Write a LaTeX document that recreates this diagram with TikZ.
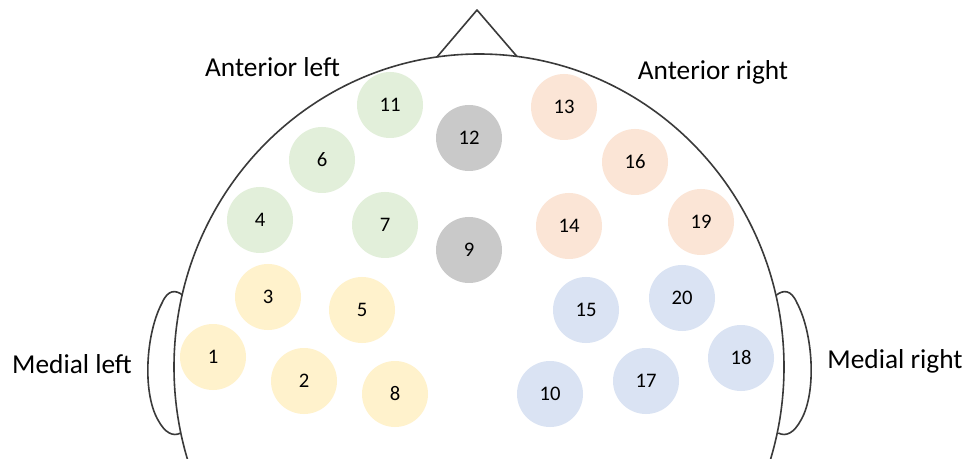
\documentclass[tikz,border=0pt]{standalone}
\usepackage{fontspec}
\setmainfont{Carlito}
\definecolor{gfill}{HTML}{E2EFDA}
\definecolor{kfill}{HTML}{C9C9C9}
\definecolor{ofill}{HTML}{FBE5D6}
\definecolor{yfill}{HTML}{FFF2CC}
\definecolor{bfill}{HTML}{DAE3F3}
\definecolor{outline}{HTML}{3A3A3A}
\tikzset{
  electrode/.style={circle, draw=none, minimum size=49.5pt, inner sep=0pt,
    font=\fontsize{15.5}{18}\selectfont, text=black},
  region/.style={anchor=base, font=\fontsize{20.5}{24}\selectfont, text=black},
  headline/.style={draw=outline, line width=1.2pt, line join=round},
}
\begin{document}
\begin{tikzpicture}[x=0.75pt, y=-0.75pt]
\useasboundingbox (0,0) rectangle (966,459);
\clip (0,0) rectangle (966,459);
\fill[white] (0,0) rectangle (966,459);

% head outline
\coordinate (hc) at (479,367);
\draw[headline] (hc) ellipse [x radius=228.75pt, y radius=234.75pt];

% nose
\coordinate (nl) at (437,57);
\coordinate (nt) at (477,10);
\coordinate (nr) at (517,56.5);
\draw[headline] (nl) -- (nt) -- (nr);

% ears
\coordinate (ltop) at (182.5,295);
\coordinate (lbot) at (180.7,433);
\draw[headline] (ltop) .. controls (176,290) and (168,289) .. (162,303)
  .. controls (146,333) and (142,392) .. (158,420)
  .. controls (165,433) and (173,437) .. (lbot);
\coordinate (rtop) at (776.5,295);
\coordinate (rbot) at (778.3,433);
\draw[headline] (rtop) .. controls (783,290) and (791,289) .. (797,303)
  .. controls (813,333) and (817,392) .. (801,420)
  .. controls (794,433) and (786,437) .. (rbot);

% region labels
\node[region] (al) at (272.5,77) {Anterior left};
\node[region] (ar) at (713,80) {Anterior right};
\node[region] (ml) at (72,373) {Medial left};
\node[region] (mr) at (895,368) {Medial right};

% anterior left
\node[electrode, fill=gfill] (e11) at (390,105) {11};
\node[electrode, fill=gfill] (e6)  at (322,160) {6};
\node[electrode, fill=gfill] (e4)  at (260,220) {4};
\node[electrode, fill=gfill] (e7)  at (385,225) {7};
% midline
\node[electrode, fill=kfill] (e12) at (469,138) {12};
\node[electrode, fill=kfill] (e9)  at (469,250) {9};
% anterior right
\node[electrode, fill=ofill] (e13) at (564,107) {13};
\node[electrode, fill=ofill] (e16) at (635,162) {16};
\node[electrode, fill=ofill] (e14) at (569,226) {14};
\node[electrode, fill=ofill] (e19) at (701,222) {19};
% medial left
\node[electrode, fill=yfill] (e3) at (268,297) {3};
\node[electrode, fill=yfill] (e5) at (362,310) {5};
\node[electrode, fill=yfill] (e1) at (213,357) {1};
\node[electrode, fill=yfill] (e2) at (304,381) {2};
\node[electrode, fill=yfill] (e8) at (395,394) {8};
% medial right
\node[electrode, fill=bfill] (e15) at (586,310) {15};
\node[electrode, fill=bfill] (e20) at (682,298) {20};
\node[electrode, fill=bfill] (e10) at (550,394) {10};
\node[electrode, fill=bfill] (e17) at (646,381) {17};
\node[electrode, fill=bfill] (e18) at (741,358) {18};
\end{tikzpicture}
\end{document}
